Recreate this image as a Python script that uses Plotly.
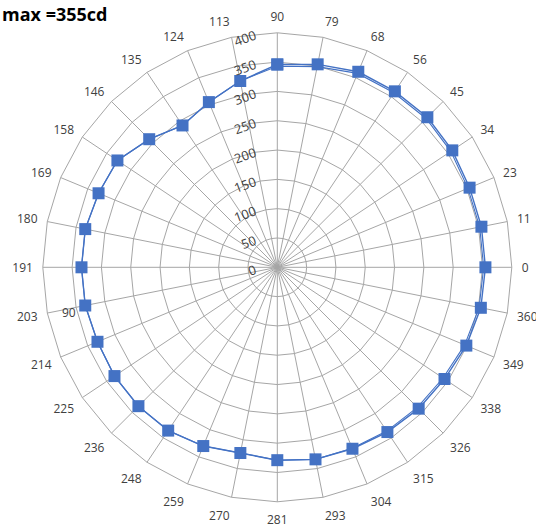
import plotly.graph_objects as go

# categories (clockwise from top, Excel radar order)
angles = ["90", "79", "68", "56", "45", "34", "23", "11", "0", "360", "349", "338",
          "326", "315", "304", "293", "281", "270", "259", "248", "236", "225",
          "214", "203", "191", "180", "169", "158", "146", "135", "124", "113"]

# candela values (series with markers)
candela = [346, 353, 361, 361, 362, 359, 355, 355, 355, 354, 349, 343,
           341, 338, 335, 334, 329, 323, 330, 335, 335, 334,
           332, 334, 334, 334, 330, 328, 309, 291, 305, 324]

# second (line only) series
candela_b = [343, 349, 358, 358, 359, 356, 352, 352, 352, 351, 346, 340,
             338, 336, 334, 334, 329, 323, 330, 335, 335, 334,
             332, 334, 334, 334, 330, 328, 309, 291, 305, 324]

radial_ticks = [0, 50, 100, 150, 200, 250, 300, 350, 400]

BLUE = "#4472C4"
GRID = "#A6A6A6"
TXT = "#404040"

fig = go.Figure()
fig.add_trace(go.Scatterpolar(
    r=candela_b + candela_b[:1], theta=angles + angles[:1],
    mode="lines", line=dict(color=BLUE, width=1.1), hoverinfo="skip",
    showlegend=False))
fig.add_trace(go.Scatterpolar(
    r=candela + candela[:1], theta=angles + angles[:1],
    mode="lines+markers", line=dict(color=BLUE, width=1.4),
    marker=dict(symbol="square", size=12, color=BLUE),
    showlegend=False))

W, H = 536, 529
cx, cy, R = 277.3, 267.3, 234.5

fig.update_layout(
    width=W, height=H,
    margin=dict(l=0, r=0, t=0, b=0),
    paper_bgcolor="white",
    font=dict(family="Open Sans", size=12, color=TXT),
    polar=dict(
        domain=dict(x=[(cx - R) / W, (cx + R) / W],
                    y=[(H - cy - R) / H, (H - cy + R) / H]),
        bgcolor="white",
        gridshape="linear",
        angularaxis=dict(
            type="category", categoryorder="array", categoryarray=angles,
            direction="clockwise", rotation=90,
            showgrid=True, gridcolor=GRID, gridwidth=1,
            showline=True, linecolor=GRID, linewidth=1,
            ticks="outside", ticklen=7, tickcolor="rgba(0,0,0,0)",
            tickfont=dict(size=12, color=TXT),
        ),
        radialaxis=dict(
            range=[0, 400], tickvals=radial_ticks,
            angle=90, side="counterclockwise", tickangle=70,
            showgrid=True, gridcolor=GRID, gridwidth=1,
            showline=False, ticks="outside", ticklen=10,
            tickcolor="rgba(0,0,0,0)",
            tickfont=dict(size=13, color=TXT),
        ),
    ),
    annotations=[
        dict(text="<b>max =355cd</b>", xref="paper", yref="paper",
             x=0, y=1, xanchor="left", yanchor="top", showarrow=False,
             font=dict(size=18, color="black", family="Open Sans")),
        dict(text="90", xref="paper", yref="paper",
             x=69 / W, y=(H - 312.7) / H, xanchor="center", yanchor="middle",
             showarrow=False, font=dict(size=12, color=TXT)),
    ],
)

fig.write_html("out.html", config={"displayModeBar": False},
               post_script="document.body.style.margin='0';")
